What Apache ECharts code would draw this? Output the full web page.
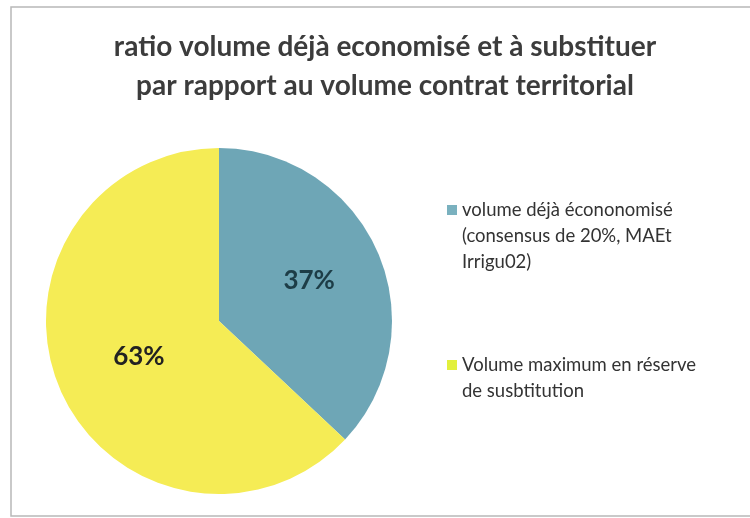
<!DOCTYPE html>
<html>
<head>
<meta charset="utf-8">
<script src="https://cdn.jsdelivr.net/npm/echarts@6/dist/echarts.min.js"></script>
<style>
html,body{margin:0;padding:0;background:#fff;}
#chart{width:750px;height:518px;}
</style>
</head>
<body>
<div id="chart"></div>
<script>
var titleLines = ['ratio volume déjà economisé et à substituer', 'par rapport au volume contrat territorial'];
var categories = [
  'volume déjà écononomisé\n(consensus de 20%, MAEt\nIrrigu02)',
  'Volume maximum en réserve\nde susbtitution'
];
var values = [37, 63];
var colors = ['#6ea6b6', '#f5ec55'];
var legendColors = ['#7ab1bf', '#e2f03c'];
var labelColors = ['#1d3d47', '#222222'];

var chart = echarts.init(document.getElementById('chart'));
chart.setOption({
  animation: false,
  backgroundColor: '#ffffff',
  title: {
    text: titleLines.join('\n'),
    left: 385,
    textAlign: 'center',
    top: 27,
    padding: 0,
    textStyle: {
      fontFamily: 'Lato',
      fontWeight: 'bold',
      fontSize: 28,
      lineHeight: 39,
      color: '#3c3c3c'
    }
  },
  legend: {
    orient: 'vertical',
    left: 447,
    top: 145,
    itemWidth: 10,
    itemHeight: 10,
    itemGap: 51,
    icon: 'rect',
    selectedMode: false,
    padding: 0,
    data: categories.map(function (c, i) {
      return { name: c, itemStyle: { color: legendColors[i] } };
    }),
    formatter: function (name) {
      var n = name.split('\n').length;
      var pre = '';
      for (var k = 1; k < n; k++) pre += '\n';
      return pre + name;
    },
    textStyle: {
      fontFamily: 'Lato',
      fontSize: 18.5,
      lineHeight: 26,
      color: '#333333'
    }
  },
  graphic: [{
    type: 'rect',
    shape: { x: 11, y: 7, width: 760, height: 509 },
    style: { fill: 'none', stroke: '#b8b8b8', lineWidth: 1.5 },
    silent: true
  }],
  series: [{
    type: 'pie',
    center: [219, 321],
    radius: [0, 173],
    startAngle: 90,
    clockwise: true,
    emphasis: { disabled: true },
    label: {
      show: true,
      position: 'inside',
      formatter: '{d}%',
      fontFamily: 'Lato',
      fontWeight: 'bold',
      fontSize: 26
    },
    labelLine: { show: false },
    data: categories.map(function (c, i) {
      return {
        name: c,
        value: values[i],
        itemStyle: { color: colors[i] },
        label: { color: labelColors[i], offset: i === 0 ? [8, -5] : [2, 0] }
      };
    })
  }]
});
</script>
</body>
</html>
